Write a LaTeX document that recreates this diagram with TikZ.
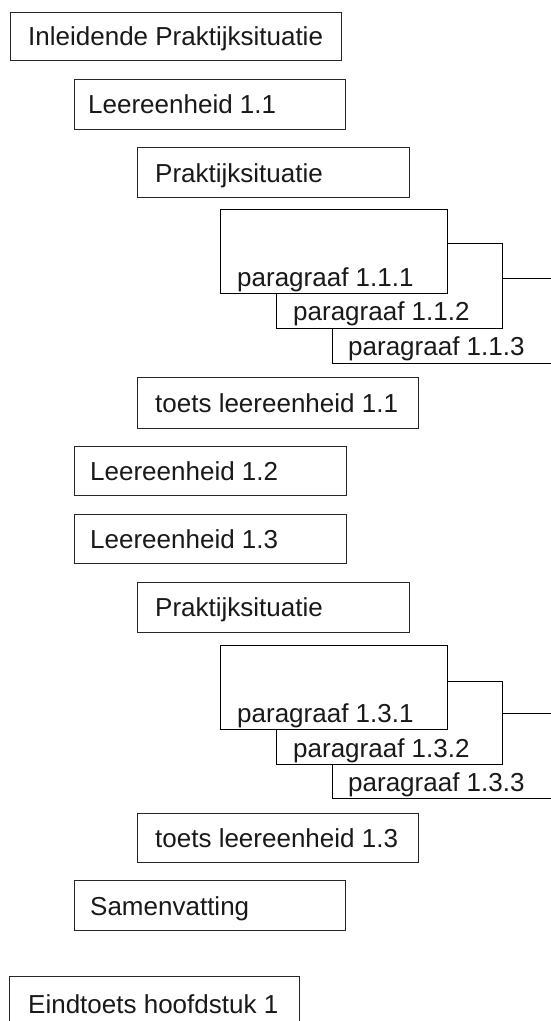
\documentclass[tikz,border=0pt]{standalone}
\usepackage{fontspec}
\setmainfont{Liberation Sans}
\begin{document}
\begin{tikzpicture}[x=1pt,y=-1pt,
  box/.style={draw=black!85, line width=0.8pt, fill=white, rectangle, inner sep=0pt, anchor=north west},
  pbox/.style={draw=black, line width=1.3pt, fill=white, rectangle, inner sep=0pt, anchor=north west},
  lbl/.style={anchor=base west, inner sep=0pt, font=\fontsize{26}{30}\selectfont, text=black!90}]
\clip (0,0) rectangle (551,1021);
\fill[white] (0,0) rectangle (551,1021);
% top-level boxes
\node[box, minimum width=331pt, minimum height=48pt] (inl) at (10,12) {};
\node[lbl] (inlT) at (28,45) {Inleidende Praktijksituatie};
\node[box, minimum width=271pt, minimum height=50pt] (le11) at (74,79) {};
\node[lbl] (le11T) at (88,113) {Leereenheid 1.1};
\node[box, minimum width=272pt, minimum height=50pt] (pr1) at (137,147) {};
\node[lbl] (pr1T) at (155,182) {Praktijksituatie};
% paragraphs 1.1
\node[pbox, minimum width=228pt, minimum height=85pt] (p113) at (332,278) {};
\node[lbl] (p113T) at (348,355) {paragraaf 1.1.3};
\node[pbox, minimum width=226pt, minimum height=85pt] (p112) at (276,243) {};
\node[lbl] (p112T) at (293,320) {paragraaf 1.1.2};
\node[pbox, minimum width=227pt, minimum height=84pt] (p111) at (220,209) {};
\node[lbl] (p111T) at (237,286) {paragraaf 1.1.1};
\node[box, minimum width=281pt, minimum height=51pt] (t11) at (137,377) {};
\node[lbl] (t11T) at (155,412) {toets leereenheid 1.1};
\node[box, minimum width=272pt, minimum height=49pt] (le12) at (74,446) {};
\node[lbl] (le12T) at (90,480) {Leereenheid 1.2};
\node[box, minimum width=272pt, minimum height=49pt] (le13) at (74,514) {};
\node[lbl] (le13T) at (90,548) {Leereenheid 1.3};
\node[box, minimum width=272pt, minimum height=50pt] (pr2) at (137,582) {};
\node[lbl] (pr2T) at (155,616.5) {Praktijksituatie};
% paragraphs 1.3
\node[pbox, minimum width=228pt, minimum height=85pt] (p133) at (332,713) {};
\node[lbl] (p133T) at (348,791) {paragraaf 1.3.3};
\node[pbox, minimum width=226pt, minimum height=83pt] (p132) at (276,681) {};
\node[lbl] (p132T) at (293,757) {paragraaf 1.3.2};
\node[pbox, minimum width=227pt, minimum height=84pt] (p131) at (220,645) {};
\node[lbl] (p131T) at (237,722) {paragraaf 1.3.1};
\node[box, minimum width=281pt, minimum height=49pt] (t13) at (137,813) {};
\node[lbl] (t13T) at (155,847) {toets leereenheid 1.3};
\node[box, minimum width=271pt, minimum height=50pt] (sam) at (74,880) {};
\node[lbl] (samT) at (90,915) {Samenvatting};
\node[box, minimum width=290pt, minimum height=60pt] (eind) at (9,976) {};
\node[lbl] (eindT) at (28,1013) {Eindtoets hoofdstuk 1};
\end{tikzpicture}
\end{document}
